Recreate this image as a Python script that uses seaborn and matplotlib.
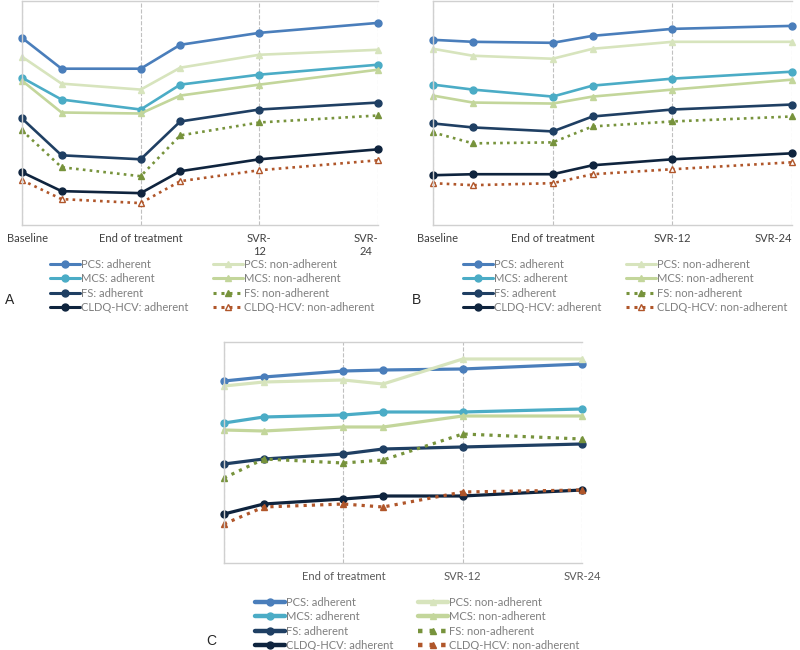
import pandas as pd
import matplotlib
matplotlib.use("Agg")
import matplotlib.pyplot as plt
import matplotlib.transforms as mtransforms
import seaborn as sns

sns.set_style("white")
plt.rcParams["font.family"] = ["Lato", "DejaVu Sans"]

# weeks since baseline
weeks = [0, 4, 12, 16, 24, 36]
tick_weeks = [0, 12, 24, 36]
ticks_a = ["Baseline", "End of treatment", "SVR-\n12", "SVR-\n24"]
ticks_b = ["Baseline", "End of treatment", "SVR-12", "SVR-24"]
ticks_c = ["", "End of treatment", "SVR-12", "SVR-24"]

series = ["PCS: adherent", "MCS: adherent", "FS: adherent", "CLDQ-HCV: adherent",
          "PCS: non-adherent", "MCS: non-adherent", "FS: non-adherent",
          "CLDQ-HCV: non-adherent"]

# panel A (relative units)
a_vals = {
    "PCS: adherent":          [188, 157, 157, 181, 193, 203],
    "MCS: adherent":          [148, 126, 116, 141, 151, 161],
    "FS: adherent":           [107, 70, 66, 104, 116, 123],
    "CLDQ-HCV: adherent":     [53, 34, 32, 54, 66, 76],
    "PCS: non-adherent":      [169, 142, 136, 158, 171, 176],
    "MCS: non-adherent":      [145, 113, 112, 130, 141, 156],
    "FS: non-adherent":       [95, 58, 49, 90, 103, 110],
    "CLDQ-HCV: non-adherent": [45, 26, 22, 44, 55, 65],
}
# panel B
b_vals = {
    "PCS: adherent":          [186, 184, 183, 190, 197, 200],
    "MCS: adherent":          [141, 136, 129, 140, 147, 154],
    "FS: adherent":           [102, 98, 94, 109, 116, 121],
    "CLDQ-HCV: adherent":     [50, 51, 51, 60, 66, 72],
    "PCS: non-adherent":      [177, 170, 167, 177, 184, 184],
    "MCS: non-adherent":      [130, 123, 122, 129, 136, 146],
    "FS: non-adherent":       [93, 82, 83, 99, 104, 109],
    "CLDQ-HCV: non-adherent": [42, 40, 42, 51, 56, 63],
}
# panel C
c_vals = {
    "PCS: adherent":          [182, 186, 192, 193, 194, 199],
    "MCS: adherent":          [140, 146, 148, 151, 151, 154],
    "FS: adherent":           [99, 104, 109, 114, 116, 119],
    "CLDQ-HCV: adherent":     [49, 59, 64, 67, 67, 73],
    "PCS: non-adherent":      [177, 181, 183, 179, 204, 204],
    "MCS: non-adherent":      [133, 132, 136, 136, 147, 147],
    "FS: non-adherent":       [85, 104, 100, 103, 129, 124],
    "CLDQ-HCV: non-adherent": [39, 56, 59, 56, 71, 73],
}

colors = ["#4a7ebb", "#4bacc6", "#1f3f63", "#0f243e",
          "#d7e4bd", "#c3d69b", "#77933c", "#b0562a"]
markers = ["o", "o", "o", "o", "^", "^", "^", "^"]
styles = ["-", "-", "-", "-", "-", "-", (0, (1, 1.6)), (0, (1, 1.6))]


def to_long(vals):
    rows = []
    for name in series:
        for w, v in zip(weeks, vals[name]):
            rows.append({"week": w, "score": v, "series": name})
    return pd.DataFrame(rows)


def draw(ax, vals, ticks, lw, hollow, tick_color):
    df = to_long(vals)
    for i, name in enumerate(series):
        d = df[df["series"] == name]
        face = "white" if (hollow and i == 7) else colors[i]
        sns.lineplot(data=d, x="week", y="score", ax=ax, color=colors[i],
                     marker=markers[i], linestyle=styles[i], lw=lw,
                     markersize=5, markeredgecolor=colors[i],
                     markerfacecolor=face, markeredgewidth=1,
                     clip_on=False, label=name, legend=False)
    ax.set(xlabel="", ylabel="")
    ax.set_xlim(0, 36)
    ax.set_xticks(tick_weeks)
    ax.set_xticklabels(ticks, color=tick_color, fontsize=8)
    ax.tick_params(axis="x", length=0, pad=6)
    ax.set_yticks([])
    ax.grid(axis="x", linestyle="--", color="#c0c0c0", lw=0.8)
    for s in ["left", "top", "bottom"]:
        ax.spines[s].set_color("#d0d0d0")
        ax.spines[s].set_linewidth(1)
    ax.spines["right"].set_visible(False)


fig = plt.figure(figsize=(8, 6.5), dpi=100)
W, H = 800, 650
shift = mtransforms.ScaledTranslation(5 / 100, 0, fig.dpi_scale_trans)

ax_a = fig.add_axes([22 / W, 1 - 225 / H, 356 / W, 224 / H])
ax_b = fig.add_axes([433 / W, 1 - 225 / H, 359 / W, 224 / H])
ax_c = fig.add_axes([224 / W, 1 - 563 / H, 358 / W, 221 / H])

draw(ax_a, a_vals, ticks_a, 1.9, True, "#404040")
ax_a.set_ylim(0, 225)
labs = ax_a.get_xticklabels()
labs[0].set_transform(labs[0].get_transform() + shift)
labs[-1].set_ha("right")
for l in labs[2:]:
    l.set_multialignment("center")

draw(ax_b, b_vals, ticks_b, 1.9, True, "#404040")
ax_b.set_ylim(0, 225)
labs = ax_b.get_xticklabels()
labs[0].set_transform(labs[0].get_transform() + shift)
labs[-1].set_ha("right")

draw(ax_c, c_vals, ticks_c, 2.3, False, "#595959")
ax_c.set_ylim(0, 221)


def add_legend(ax, x, y, lw):
    handles = ax.get_lines()[:8]
    leg = fig.legend(handles, series, loc="upper left",
                     bbox_to_anchor=(x / W, 1 - y / H), ncol=2, frameon=False,
                     borderpad=0, borderaxespad=0, fontsize=8,
                     handlelength=2.7, handletextpad=0.1, columnspacing=2.2,
                     labelspacing=0.3, labelcolor="#7f7f7f")
    for h in leg.legend_handles:
        h.set_linewidth(lw)
    return leg


add_legend(ax_a, 50, 259, 2.2)
add_legend(ax_b, 463, 259, 2.2)
add_legend(ax_c, 255, 597, 3.2)

fig.text(5 / W, 1 - 300 / H, "A", fontsize=10, family="Liberation Sans", va="center")
fig.text(412 / W, 1 - 300 / H, "B", fontsize=10, family="Liberation Sans", va="center")
fig.text(206 / W, 1 - 641 / H, "C", fontsize=10, family="Liberation Sans", va="center")

fig.savefig("out.png", dpi=100)
